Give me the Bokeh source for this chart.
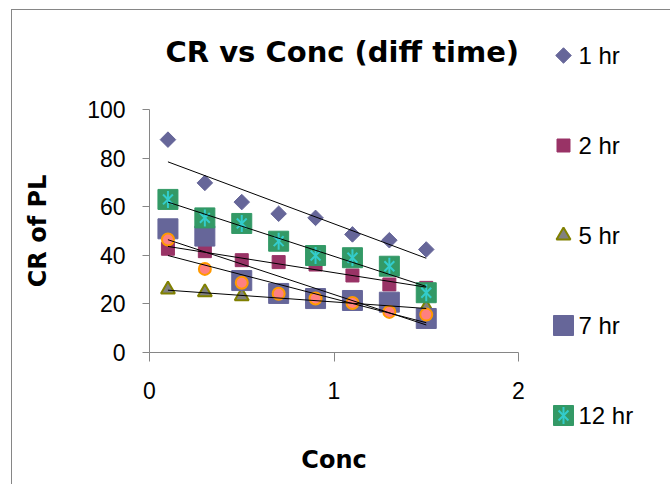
import numpy as np
from bokeh.plotting import figure
from bokeh.models import Range1d
from bokeh.layouts import row, column
from bokeh.embed import file_html
from bokeh.resources import INLINE
from bokeh.core.properties import value

# Concentration levels and CR of PL at each exposure time
conc = [0.1, 0.3, 0.5, 0.7, 0.9, 1.1, 1.3, 1.5]
cr_1hr = [87.6, 69.8, 61.9, 57.1, 55.4, 48.6, 46.2, 42.4]
cr_2hr = [42.7, 41.7, 38.0, 37.2, 36.2, 31.7, 28.0, 26.6]
cr_5hr = [25.9, 24.8, 23.2, 22.3, 21.1, 19.8, 19.5, 18.4]
cr_7hr = [50.9, 47.9, 29.6, 24.3, 22.2, 21.4, 20.7, 14.0]
cr_12hr = [63.0, 55.4, 53.1, 45.8, 39.9, 39.0, 35.5, 24.6]
cr_unlabeled = [46.5, 34.4, 28.7, 24.2, 22.2, 20.4, 16.7, 15.6]

legend_names = ["1 hr", "2 hr", "5 hr", "7 hr", "12 hr"]
x_ticks = [0, 1, 2]
y_ticks = [0, 20, 40, 60, 80, 100]
chart_title = "CR vs Conc (diff time)"

AXIS_GRAY = "#868686"
TICK_FONT = "Liberation Sans"
BOLD_FONT = "DejaVu Sans"


def blank_panel(width, height):
    """A figure with no axes whose data units are canvas pixels (y down)."""
    f = figure(width=width, height=height,
               x_range=Range1d(0, width), y_range=Range1d(height, 0),
               output_backend="svg", toolbar_location=None,
               x_axis_location=None, y_axis_location=None, min_border=0)
    f.frame_align = False
    f.xgrid.visible = False
    f.ygrid.visible = False
    f.outline_line_color = None
    return f


# title strip
head = blank_panel(533, 66)
head.text([153], [41], text=[chart_title], text_font=value(BOLD_FONT),
          text_font_size="29px", text_font_style="bold",
          text_baseline="middle", text_color="black")

p = figure(
    width=533, height=408,
    x_range=Range1d(0, 2), y_range=Range1d(0, 100),
    output_backend="svg", toolbar_location=None,
    min_border_left=137, min_border_right=27,
    min_border_top=33, min_border_bottom=132,
)
p.frame_align = False

# marker styles per series: list of (marker, size, fill, line, line_width, angle)
styles = {
    "1 hr": [("square", 11, "#666699", "#666699", 1, np.pi / 4)],
    "2 hr": [("square", 13, "#993366", "#993366", 1, 0)],
    "5 hr": [("triangle", 14, "#808080", "#808000", 2, 0)],
    "7 hr": [("square", 20, "#666699", "#666699", 1, 0)],
    "12 hr": [("square", 20, "#339966", "#339966", 1, 0),
              ("x", 14, None, "#33CCCC", 2, 0),
              ("dash", 17, None, "#33CCCC", 2, np.pi / 2)],
    "other": [("circle", 12, "#FF8080", "#FF9900", 2, 0)],
}

series = [("1 hr", cr_1hr), ("2 hr", cr_2hr), ("5 hr", cr_5hr),
          ("7 hr", cr_7hr), ("12 hr", cr_12hr), ("other", cr_unlabeled)]

for name, vals in series:
    for marker, size, fill, line, lw, ang in styles[name]:
        p.scatter(conc, vals, marker=marker, size=size, fill_color=fill,
                  line_color=line, line_width=lw, angle=ang)

# linear trendlines
for name, vals in series:
    slope, icpt = np.polyfit(conc, vals, 1)
    xs = [conc[0], conc[-1]]
    p.line(xs, [slope * x + icpt for x in xs], line_color="black", line_width=1)

p.xgrid.visible = False
p.ygrid.visible = False
p.outline_line_color = None

for ax in (p.xaxis[0], p.yaxis[0]):
    ax.axis_line_color = AXIS_GRAY
    ax.major_tick_line_color = AXIS_GRAY
    ax.minor_tick_line_color = None
    ax.major_tick_in = 0
    ax.major_label_text_font = TICK_FONT
    ax.major_label_text_font_size = "23px"
    ax.major_label_text_color = "black"
    ax.axis_label_text_font = BOLD_FONT
    ax.axis_label_text_font_size = "24px"
    ax.axis_label_text_font_style = "bold"
    ax.axis_label_text_color = "black"

p.xaxis.ticker = x_ticks
p.yaxis.ticker = y_ticks
p.xaxis.major_tick_out = 9
p.yaxis.major_tick_out = 7
p.xaxis.major_label_standoff = 20
p.yaxis.major_label_standoff = 17
p.xaxis.axis_label = "Conc"
p.yaxis.axis_label = "CR of PL"
p.xaxis.axis_label_standoff = 44
p.yaxis.axis_label_standoff = 32

# legend column
lg = blank_panel(125, 474)
legend_top, legend_step = 45, 90
marker_x, label_x = 18, 33
for i, name in enumerate(legend_names):
    yy = legend_top + i * legend_step
    for marker, size, fill, line, lw, ang in styles[name]:
        lg.scatter([marker_x], [yy], marker=marker, size=size, fill_color=fill,
                   line_color=line, line_width=lw, angle=ang)
    lg.text([label_x], [yy], text=[name], text_font=value(TICK_FONT),
            text_font_size="24px", text_baseline="middle", text_color="black")

# chart area border along the top and left edges
layout = row(column(head, p, spacing=0), lg, margin=(9, 0, 0, 11),
             styles={"border-left": f"1px solid {AXIS_GRAY}",
                     "border-top": f"1px solid {AXIS_GRAY}"})
open("out.html", "w").write(file_html(layout, INLINE))
